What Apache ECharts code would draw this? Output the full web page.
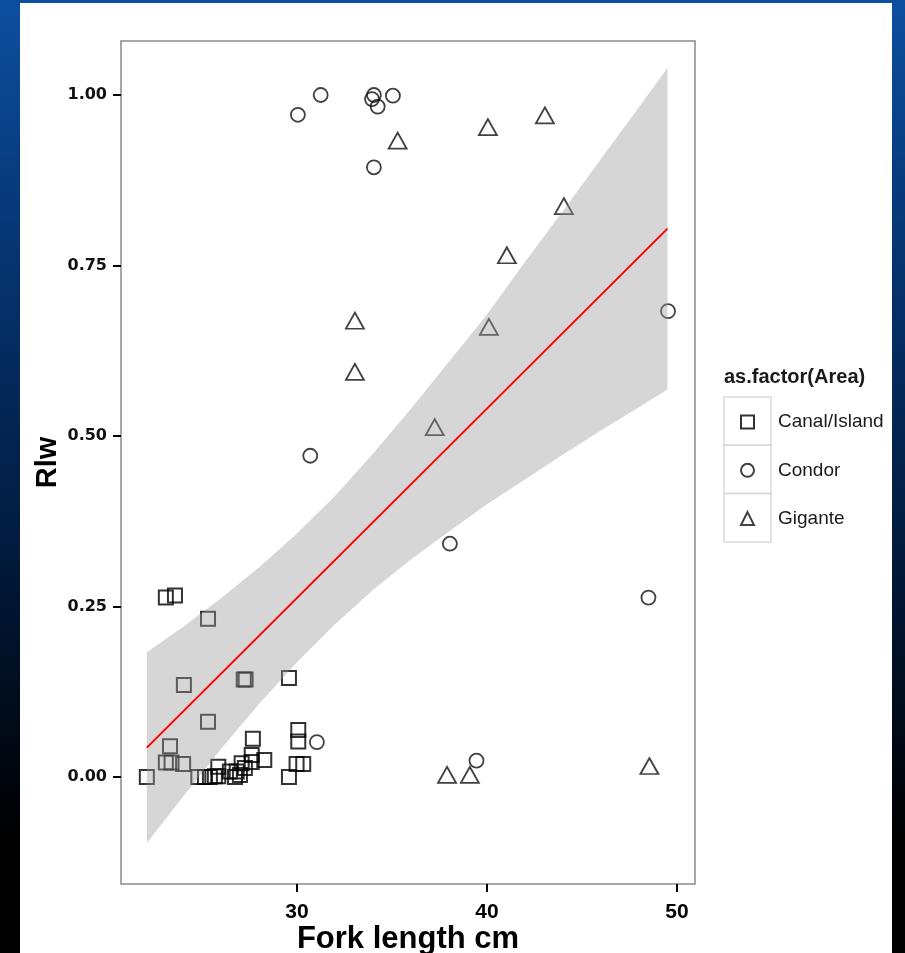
<!DOCTYPE html>
<html><head><meta charset="utf-8">
<script src="https://cdn.jsdelivr.net/npm/echarts@6/dist/echarts.min.js"></script>
<style>
html,body{margin:0;padding:0;width:905px;height:953px;overflow:hidden;
background:linear-gradient(to bottom,#0d4f9f 0%,#06336e 28%,#021a3c 58%,#000 88%,#000 100%);}
#paper{position:absolute;left:20px;top:3px;width:872px;height:950px;background:#fff;}
#chart{position:absolute;left:0;top:0;width:905px;height:953px;}
</style></head><body><div id="paper"></div><div id="chart"></div>
<script>
// ---- data ----
var areaNames = ['Canal/Island', 'Condor', 'Gigante'];

var canalX = [22.1, 23.1, 23.58, 25.32, 24.05, 25.32, 23.32, 23.1, 23.4, 24.01,
              27.2, 27.3, 29.58, 30.07, 30.07, 27.68, 29.98, 30.33, 29.58,
              24.81, 25.16, 25.42, 25.68, 25.86, 25.86, 26.47, 26.83, 27.09, 27.26,
              27.62, 27.62, 28.28, 27.0, 26.74];
var canalY = [0.000, 0.263, 0.266, 0.232, 0.135, 0.081, 0.045, 0.021, 0.021, 0.019,
              0.143, 0.143, 0.145, 0.069, 0.052, 0.056, 0.019, 0.019, 0.000,
              0.000, 0.000, 0.000, 0.001, 0.001, 0.015, 0.008, 0.008, 0.020, 0.013,
              0.032, 0.022, 0.025, 0.003, 0.000];

var condorX = [30.05, 31.25, 33.95, 34.05, 34.25, 35.05, 34.05, 30.7, 31.05, 38.05, 39.45, 48.5, 49.53];
var condorY = [0.971, 1.000, 0.994, 1.000, 0.983, 0.999, 0.894, 0.471, 0.051, 0.342, 0.024, 0.263, 0.683];

var giganteX = [35.3, 40.05, 43.05, 44.05, 41.05, 33.05, 33.05, 40.1, 37.25, 37.9, 39.1, 48.55];
var giganteY = [0.933, 0.953, 0.970, 0.837, 0.765, 0.669, 0.594, 0.660, 0.513, 0.003, 0.003, 0.016];

// linear fit (red line) and its confidence band
var fitX = [22.1, 49.5];
var fitY = [0.043, 0.804];
var ribbonX  = [22.1, 24, 26, 28, 30, 32, 34, 36, 38, 40, 42, 44, 46, 48, 49.5];
var ribbonLo = [-0.097, -0.029, 0.041, 0.107, 0.168, 0.224, 0.274, 0.319, 0.360, 0.400, 0.436, 0.473, 0.508, 0.542, 0.568];
var ribbonHi = [0.183, 0.220, 0.262, 0.307, 0.357, 0.412, 0.474, 0.540, 0.609, 0.678, 0.755, 0.830, 0.906, 0.982, 1.040];

var xTicks = [30, 40, 50];
var yTicks = [0, 0.25, 0.5, 0.75, 1.0];

// ---- chart ----
function pairs(xs, ys) { return xs.map(function (x, i) { return [x, ys[i]]; }); }

var sansFont = "'Liberation Sans', Arial, Helvetica, sans-serif";
var chart = echarts.init(document.getElementById('chart'), null, {renderer: 'canvas'});

var keyBoxes = [0, 1, 2].map(function (i) {
  return {type: 'rect', x: 724, y: 397 + i * 48.3, z: 0,
          shape: {x: 0, y: 0, width: 47, height: 48.3},
          style: {fill: 'none', stroke: '#d9d9d9', lineWidth: 1.5}};
});

var option = {
  animation: false,
  backgroundColor: 'transparent',
  title: {
    text: 'as.factor(Area)', left: 724, top: 367, padding: 0,
    textStyle: {fontFamily: sansFont, fontWeight: 'bold', fontSize: 20, color: '#1a1a1a'}
  },
  legend: {
    orient: 'vertical', left: 740, top: 412, padding: 0,
    itemWidth: 13, itemHeight: 13, itemGap: 28.3, selectedMode: false,
    data: areaNames,
    textStyle: {fontFamily: sansFont, fontSize: 19, color: '#1a1a1a', lineHeight: 20, padding: [0, 0, 0, 19]}
  },
  graphic: keyBoxes,
  grid: {left: 121, right: 210, top: 41, bottom: 69, show: true, containLabel: false,
         outerBoundsMode: 'none',
         borderColor: '#8a8a8a', borderWidth: 1.5, backgroundColor: 'transparent'},
  xAxis: {
    type: 'value', min: 20.74, max: 50.95,
    name: 'Fork length cm', nameLocation: 'middle', nameGap: 40, nameMoveOverlap: false,
    nameTextStyle: {fontFamily: sansFont, fontWeight: 'bold', fontSize: 31, color: '#000'},
    axisLine: {show: false, onZero: false},
    axisTick: {show: true, customValues: xTicks, length: 8, lineStyle: {color: '#000', width: 2}},
    axisLabel: {customValues: xTicks, margin: 18,
                fontFamily: "'Liberation Sans Narrow', 'Liberation Sans', Arial, sans-serif",
                fontWeight: 'bold', fontSize: 21, color: '#000'},
    splitLine: {show: false}
  },
  yAxis: {
    type: 'value', min: -0.157, max: 1.0792,
    name: 'Rlw', nameLocation: 'middle', nameGap: 59, nameMoveOverlap: false,
    nameTextStyle: {fontFamily: sansFont, fontWeight: 'bold', fontSize: 29, color: '#000'},
    axisLine: {show: false, onZero: false},
    axisTick: {show: true, customValues: yTicks, length: 8, lineStyle: {color: '#000', width: 2}},
    axisLabel: {customValues: yTicks, margin: 14,
                formatter: function (v) { return v.toFixed(2); },
                fontFamily: "'DejaVu Sans', Verdana, sans-serif",
                fontWeight: 'bold', fontSize: 16, color: '#111'},
    splitLine: {show: false}
  },
  series: [
    {name: areaNames[0], type: 'scatter', symbol: 'rect', symbolSize: 14, z: 2,
     data: pairs(canalX, canalY), emphasis: {disabled: true},
     itemStyle: {color: 'transparent', borderColor: '#000', borderWidth: 2}},
    {name: areaNames[1], type: 'scatter', symbol: 'circle', symbolSize: 14, z: 2,
     data: pairs(condorX, condorY), emphasis: {disabled: true},
     itemStyle: {color: 'transparent', borderColor: '#111', borderWidth: 1.8}},
    {name: areaNames[2], type: 'scatter', symbol: 'triangle', symbolSize: [18, 16], z: 2,
     data: pairs(giganteX, giganteY), emphasis: {disabled: true},
     itemStyle: {color: 'transparent', borderColor: '#111', borderWidth: 1.8}},
    {name: 'band', type: 'custom', z: 3, silent: true,
     data: ribbonX.map(function (x, i) { return [x, ribbonLo[i], ribbonHi[i]]; }),
     encode: {x: 0, y: [1, 2]},
     renderItem: function (params, api) {
       if (params.dataIndex !== 0) return null;
       var pts = [], i;
       for (i = 0; i < ribbonX.length; i++) pts.push(api.coord([ribbonX[i], ribbonHi[i]]));
       for (i = ribbonX.length - 1; i >= 0; i--) pts.push(api.coord([ribbonX[i], ribbonLo[i]]));
       return {type: 'polygon', shape: {points: pts}, style: {fill: 'rgba(153,153,153,0.4)'}};
     }},
    {name: 'fit', type: 'line', z: 4, symbol: 'none', silent: true,
     data: pairs(fitX, fitY), lineStyle: {color: '#ff0000', width: 2}}
  ]
};
chart.setOption(option);
</script></body></html>
